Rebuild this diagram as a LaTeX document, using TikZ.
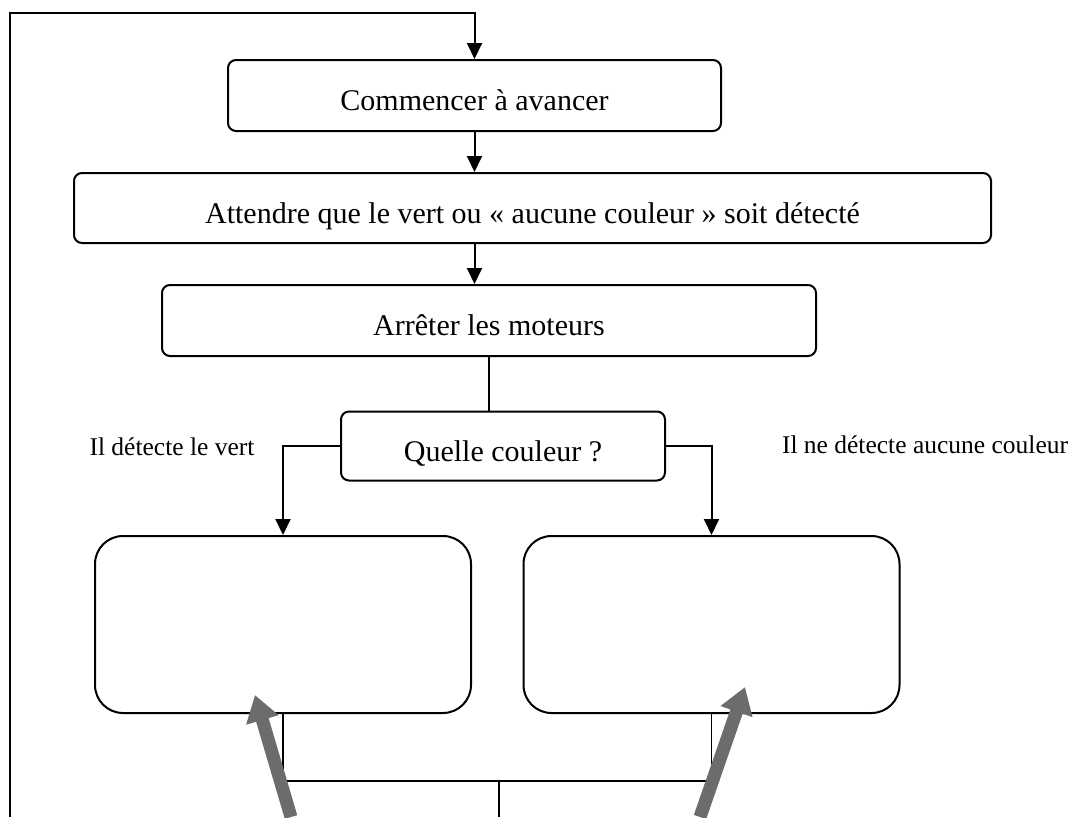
\documentclass[tikz,border=0pt]{standalone}
\usepackage{fontspec}
\setmainfont{Liberation Serif}
\usetikzlibrary{arrows.meta,calc}
\definecolor{arrgray}{RGB}{108,108,108}
\begin{document}
\begin{tikzpicture}[x=1pt,y=-1pt,
  box/.style={draw,line width=2pt,rounded corners=8pt,inner sep=0pt,text height=30pt,text depth=0pt,font=\fontsize{30}{36}\selectfont},
  bigbox/.style={draw,line width=2pt,rounded corners=28pt,inner sep=0pt,minimum width=376pt,minimum height=177pt},
  lbl/.style={font=\fontsize{25.5}{30}\selectfont,inner sep=0pt},
  arr/.style={line width=2pt,-{Triangle[width=15pt,length=16pt]}},
  conn/.style={line width=2pt},
  thinconn/.style={line width=1.4pt},
  grayarr/.style={line width=13pt,draw=arrgray,-{Triangle[width=32pt,length=26pt]}}
]
\useasboundingbox (0,0) rectangle (1078,817);

\node[box,minimum width=493pt,minimum height=71pt] (b1) at (474.5,95.5) {Commencer à avancer};
\node[box,minimum width=917pt,minimum height=70pt] (b2) at (532.5,208) {Attendre que le vert ou « aucune couleur » soit détecté};
\node[box,minimum width=654pt,minimum height=71pt] (b3) at (489,320.5) {Arrêter les moteurs};
\node[box,minimum width=324pt,minimum height=69pt] (b4) at (503,446) {Quelle couleur ?};
\node[bigbox] (b5) at (283,624.5) {};
\node[bigbox] (b6) at (711.5,624.5) {};

\node[lbl] (l1) at (172,447) {Il détecte le vert};
\node[lbl] (l2) at (925,445) {Il ne détecte aucune couleur};

% outer loop
\coordinate (loopbot) at (10,817);
\coordinate (looptop) at (10,13);
\draw[arr] (loopbot) -- (looptop) -| (b1.north);

% main chain
\draw[arr] (b1.south) -- (b1.south |- b2.north);
\draw[arr] (b2.south -| b1.south) -- (b3.north -| b1.south);
\draw[conn] (b3.south) -- (b3.south |- b4.north);
\draw[arr] (b4.west) -| (b5.north);
\draw[arr] (b4.east) -| (b6.north);

% bottom join
\coordinate (jl) at ($(b5.south)+(0,67)$);
\coordinate (jr) at ($(b6.south)+(0,67)$);
\coordinate (jm) at (499,780);
\coordinate (jb) at (499,817);
\draw[thinconn] (b5.south) -- (jl) -- (jr) -- (b6.south);
\draw[thinconn] (jm) -- (jb);

% gray arrows
\coordinate (g1s) at (291,817);
\coordinate (g1e) at (255,695);
\coordinate (g2s) at (700,817);
\coordinate (g2e) at (745,687);
\draw[grayarr] (g1s) -- (g1e);
\draw[grayarr] (g2s) -- (g2e);
\end{tikzpicture}
\end{document}
